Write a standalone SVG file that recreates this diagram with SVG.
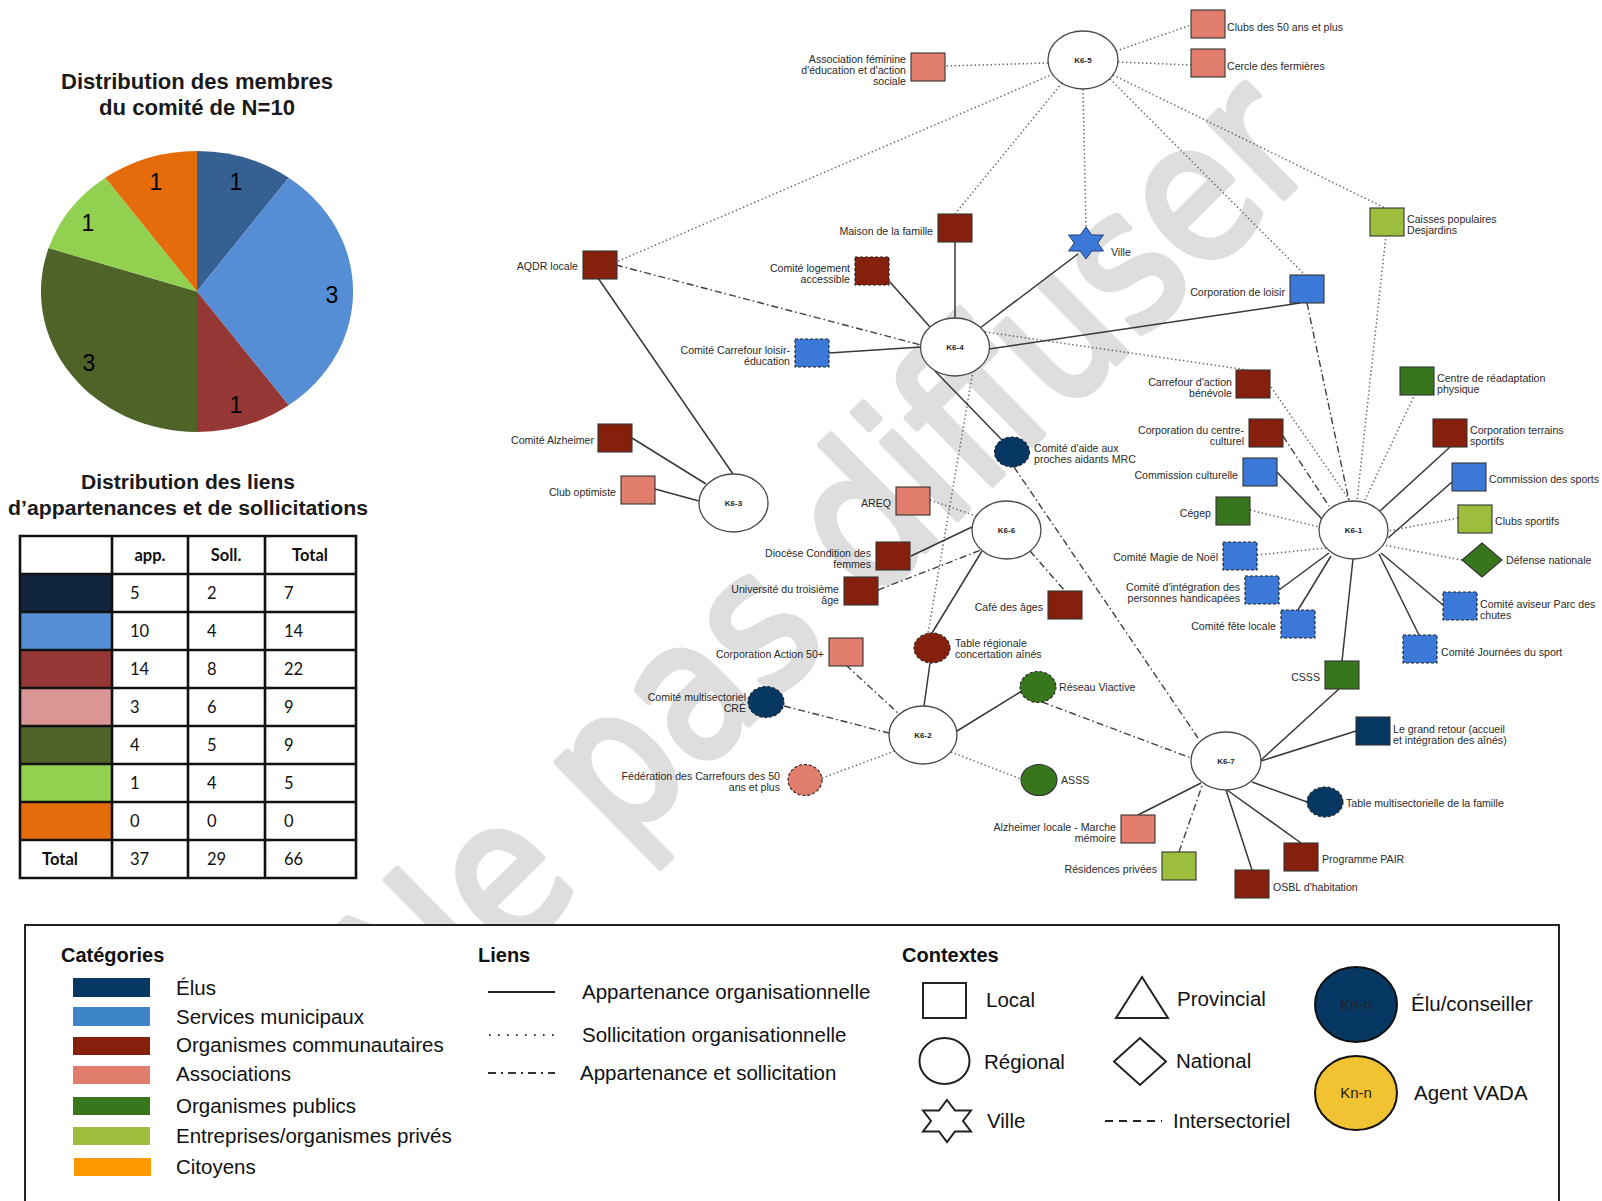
<svg xmlns="http://www.w3.org/2000/svg" width="1602" height="1201" viewBox="0 0 1602 1201">
<style>
  .lb{font-family:"Liberation Sans",Arial,sans-serif;font-size:10.6px;fill:#2a2a2a}
  .r{text-anchor:end}
  .hub{fill:#fff;stroke:#4a4a4a;stroke-width:1.3}
  .ht{font-family:"Liberation Sans",Arial,sans-serif;font-size:8px;font-weight:bold;fill:#222;text-anchor:middle}
  .sq{stroke:#333;stroke-width:1.1}
  .dsh{stroke:#222;stroke-dasharray:3 2}
  .dr{fill:#85200c}.sa{fill:#e07d6c}.bl{fill:#3c78d8}.gr{fill:#38761d}.lg{fill:#9dbe3c}.nv{fill:#073763}
  .es{stroke:#383838;stroke-width:1.5;fill:none}
  .ed{stroke:#666;stroke-width:1.5;stroke-dasharray:1.4 2.6;fill:none}
  .ea{stroke:#404040;stroke-width:1.4;stroke-dasharray:7 3 1.6 3;fill:none}
  .tt{font-family:"Liberation Sans",Arial,sans-serif;font-weight:bold;fill:#1a1a1a;text-anchor:middle}
  .pn{font-family:"Liberation Sans",Arial,sans-serif;font-size:23px;fill:#000;text-anchor:middle}
  .tb{font-family:Lato,"Open Sans",sans-serif;font-size:16.5px;fill:#111}
  .tbb{font-family:Lato,"Open Sans",sans-serif;font-size:16.5px;font-weight:bold;fill:#111;text-anchor:middle}
  .grid{stroke:#111;stroke-width:2.6;fill:none}
  .lt{font-family:"Liberation Sans",Arial,sans-serif;font-size:20.5px;fill:#111}
  .lh{font-family:"Liberation Sans",Arial,sans-serif;font-size:20px;font-weight:bold;fill:#111}
</style>

<rect width="1602" height="1201" fill="#fff"/>

<!-- watermark -->
<text transform="translate(1322,160) rotate(-44.5)" font-family="DejaVu Sans,sans-serif" font-size="195" fill="#dedede" stroke="#dedede" stroke-width="7" stroke-linejoin="round" text-anchor="end" textLength="1265" lengthAdjust="spacingAndGlyphs">Ne pas diffuser</text>

<!-- pie chart -->
<g id="pie">
  <text class="tt" font-size="22" x="197" y="89" textLength="272" lengthAdjust="spacingAndGlyphs">Distribution des membres</text>
  <text class="tt" font-size="22" x="197" y="115" textLength="196" lengthAdjust="spacingAndGlyphs">du comité de N=10</text>
  <path d="M197,291.5 L197,151 A156,140.5 0 0 1 288.7,177.8 Z" fill="#376092"/>
  <path d="M197,291.5 L288.7,177.8 A156,140.5 0 0 1 288.7,405.2 Z" fill="#558ed5"/>
  <path d="M197,291.5 L288.7,405.2 A156,140.5 0 0 1 197,432 Z" fill="#953735"/>
  <path d="M197,291.5 L197,432 A156,140.5 0 0 1 48.6,248.1 Z" fill="#4f6228"/>
  <path d="M197,291.5 L48.6,248.1 A156,140.5 0 0 1 105.3,177.8 Z" fill="#92d050"/>
  <path d="M197,291.5 L105.3,177.8 A156,140.5 0 0 1 197,151 Z" fill="#e46c0a"/>
  <text class="pn" x="236" y="190">1</text>
  <text class="pn" x="332" y="303">3</text>
  <text class="pn" x="236" y="413">1</text>
  <text class="pn" x="89" y="371">3</text>
  <text class="pn" x="88" y="231">1</text>
  <text class="pn" x="156" y="190">1</text>
</g>

<!-- link table -->
<g id="table">
  <text class="tt" font-family="Lato,sans-serif" font-size="20" x="188" y="489" textLength="214" lengthAdjust="spacingAndGlyphs">Distribution des liens</text>
  <text class="tt" font-family="Lato,sans-serif" font-size="20" x="188" y="515" textLength="360" lengthAdjust="spacingAndGlyphs">d’appartenances et de sollicitations</text>
  <rect x="20" y="574" width="92" height="38" fill="#10243e"/>
  <rect x="20" y="612" width="92" height="38" fill="#558ed5"/>
  <rect x="20" y="650" width="92" height="38" fill="#953735"/>
  <rect x="20" y="688" width="92" height="38" fill="#d99694"/>
  <rect x="20" y="726" width="92" height="38" fill="#4f6228"/>
  <rect x="20" y="764" width="92" height="38" fill="#92d050"/>
  <rect x="20" y="802" width="92" height="38" fill="#e46c0a"/>
  <path class="grid" d="M20,536H356V878H20Z M112,536V878 M188,536V878 M265,536V878 M20,574H356 M20,612H356 M20,650H356 M20,688H356 M20,726H356 M20,764H356 M20,802H356 M20,840H356"/>
  <text class="tbb" x="150" y="561">app.</text>
  <text class="tbb" x="226" y="561">Soll.</text>
  <text class="tbb" x="310" y="561">Total</text>
  <g class="tb">
    <text x="130" y="599">5</text><text x="207" y="599">2</text><text x="284" y="599">7</text>
    <text x="130" y="637">10</text><text x="207" y="637">4</text><text x="284" y="637">14</text>
    <text x="130" y="675">14</text><text x="207" y="675">8</text><text x="284" y="675">22</text>
    <text x="130" y="713">3</text><text x="207" y="713">6</text><text x="284" y="713">9</text>
    <text x="130" y="751">4</text><text x="207" y="751">5</text><text x="284" y="751">9</text>
    <text x="130" y="789">1</text><text x="207" y="789">4</text><text x="284" y="789">5</text>
    <text x="130" y="827">0</text><text x="207" y="827">0</text><text x="284" y="827">0</text>
    <text x="130" y="865">37</text><text x="207" y="865">29</text><text x="284" y="865">66</text>
  </g>
  <text class="tbb" x="60" y="865">Total</text>
</g>

<!-- connectors -->
<g id="connectors">
  <!-- sollicitation -->
  <line class="ed" x1="1048" y1="63" x2="946" y2="66"/>
  <line class="ed" x1="1116" y1="51" x2="1191" y2="25"/>
  <line class="ed" x1="1118" y1="62" x2="1191" y2="65"/>
  <line class="ed" x1="1053" y1="74" x2="616" y2="262"/>
  <line class="ed" x1="1062" y1="83" x2="955" y2="214"/>
  <line class="ed" x1="1083" y1="89" x2="1086" y2="227"/>
  <line class="ed" x1="1110" y1="79" x2="1305" y2="275"/>
  <line class="ed" x1="1113" y1="75" x2="1385" y2="208"/>
  <line class="ed" x1="985" y1="332" x2="1248" y2="370"/>
  <line class="ed" x1="1271" y1="387" x2="1350" y2="501"/>
  <line class="ed" x1="973" y1="371" x2="928" y2="633"/>
  <line class="ed" x1="1386" y1="235" x2="1357" y2="501"/>
  <line class="ed" x1="1415" y1="394" x2="1364" y2="502"/>
  <line class="ed" x1="1250" y1="510" x2="1319" y2="527"/>
  <line class="ed" x1="1257" y1="555" x2="1326" y2="548"/>
  <line class="ed" x1="1458" y1="518" x2="1388" y2="531"/>
  <line class="ed" x1="1462" y1="560" x2="1383" y2="545"/>
  <line class="ed" x1="930" y1="500" x2="976" y2="516"/>
  <line class="ed" x1="822" y1="778" x2="895" y2="751"/>
  <line class="ed" x1="951" y1="752" x2="1021" y2="779"/>
  <!-- appartenance et sollicitation -->
  <line class="ea" x1="616" y1="265" x2="921" y2="345"/>
  <line class="ea" x1="878" y1="590" x2="981" y2="550"/>
  <line class="ea" x1="1030" y1="551" x2="1065" y2="591"/>
  <line class="ea" x1="1014" y1="467" x2="1198" y2="738"/>
  <line class="ea" x1="846" y1="665" x2="898" y2="713"/>
  <line class="ea" x1="784" y1="706" x2="889" y2="733"/>
  <line class="ea" x1="1042" y1="702" x2="1191" y2="758"/>
  <line class="ea" x1="1179" y1="852" x2="1203" y2="783"/>
  <line class="ea" x1="1307" y1="303" x2="1349" y2="501"/>
  <line class="ea" x1="1283" y1="436" x2="1329" y2="506"/>
  <!-- appartenance -->
  <line class="es" x1="955" y1="241" x2="955" y2="318"/>
  <line class="es" x1="889" y1="281" x2="930" y2="327"/>
  <line class="es" x1="1078" y1="254" x2="980" y2="328"/>
  <line class="es" x1="1300" y1="303" x2="989" y2="349"/>
  <line class="es" x1="829" y1="353" x2="921" y2="347"/>
  <line class="es" x1="935" y1="371" x2="1002" y2="440"/>
  <line class="es" x1="598" y1="278" x2="733" y2="474"/>
  <line class="es" x1="632" y1="438" x2="706" y2="484"/>
  <line class="es" x1="655" y1="489" x2="699" y2="501"/>
  <line class="es" x1="911" y1="556" x2="972" y2="527"/>
  <line class="es" x1="932" y1="633" x2="982" y2="551"/>
  <line class="es" x1="930" y1="663" x2="924" y2="706"/>
  <line class="es" x1="957" y1="731" x2="1022" y2="691"/>
  <line class="es" x1="1277" y1="472" x2="1322" y2="519"/>
  <line class="es" x1="1279" y1="590" x2="1329" y2="553"/>
  <line class="es" x1="1298" y1="610" x2="1331" y2="556"/>
  <line class="es" x1="1342" y1="661" x2="1353" y2="559"/>
  <line class="es" x1="1419" y1="635" x2="1379" y2="554"/>
  <line class="es" x1="1443" y1="605" x2="1381" y2="553"/>
  <line class="es" x1="1452" y1="482" x2="1388" y2="538"/>
  <line class="es" x1="1450" y1="447" x2="1380" y2="511"/>
  <line class="es" x1="1340" y1="688" x2="1261" y2="760"/>
  <line class="es" x1="1356" y1="731" x2="1261" y2="761"/>
  <line class="es" x1="1307" y1="802" x2="1252" y2="782"/>
  <line class="es" x1="1301" y1="843" x2="1227" y2="790"/>
  <line class="es" x1="1252" y1="870" x2="1226" y2="790"/>
  <line class="es" x1="1138" y1="815" x2="1201" y2="783"/>
</g>

<!-- hubs -->
<g id="k6-5"><ellipse class="hub" cx="1083" cy="60" rx="35" ry="29"/><text class="ht" x="1083" y="63">K6-5</text></g>
<g id="k6-4"><ellipse class="hub" cx="955" cy="347" rx="34.5" ry="29"/><text class="ht" x="955" y="350">K6-4</text></g>
<g id="k6-3"><ellipse class="hub" cx="733.5" cy="503" rx="34.5" ry="29"/><text class="ht" x="733.5" y="506">K6-3</text></g>
<g id="k6-6"><ellipse class="hub" cx="1006.5" cy="530" rx="34.5" ry="29"/><text class="ht" x="1006.5" y="533">K6-6</text></g>
<g id="k6-2"><ellipse class="hub" cx="923" cy="735" rx="34" ry="29"/><text class="ht" x="923" y="738">K6-2</text></g>
<g id="k6-7"><ellipse class="hub" cx="1226" cy="761" rx="35" ry="29"/><text class="ht" x="1226" y="764">K6-7</text></g>
<g id="k6-1"><ellipse class="hub" cx="1353.5" cy="530" rx="34.5" ry="29"/><text class="ht" x="1353.5" y="533">K6-1</text></g>

<!-- organisations -->
<g id="n-assoc-feminine"><rect class="sq sa" x="911" y="53" width="34" height="28"/><text class="lb r" x="906" y="62.8">Association féminine<tspan x="906" dy="11">d'éducation et d'action</tspan><tspan x="906" dy="11">sociale</tspan></text></g>
<g id="n-clubs50"><rect class="sq sa" x="1191" y="10" width="34" height="28"/><text class="lb" x="1227" y="30.8">Clubs des 50 ans et plus</text></g>
<g id="n-cercle"><rect class="sq sa" x="1191" y="49" width="34" height="28"/><text class="lb" x="1227" y="69.8">Cercle des fermières</text></g>
<g id="n-maison"><rect class="sq dr" x="938" y="214" width="34" height="28"/><text class="lb r" x="933" y="234.8">Maison de la famille</text></g>
<g id="n-logement"><rect class="sq dr dsh" x="855" y="257" width="34" height="28"/><text class="lb r" x="850" y="271.8">Comité logement<tspan x="850" dy="11">accessible</tspan></text></g>
<g id="n-aqdr"><rect class="sq dr" x="583" y="251" width="34" height="28"/><text class="lb r" x="578" y="269.8">AQDR locale</text></g>
<g id="n-carrefour-loisir"><rect class="sq bl dsh" x="795" y="339" width="34" height="28"/><text class="lb r" x="790" y="353.8">Comité Carrefour loisir-<tspan x="790" dy="11">éducation</tspan></text></g>
<g id="n-ville"><polygon points="1086,227 1091.8,235 1103.5,235 1097.7,243 1103.5,251 1091.8,251 1086,259 1080.2,251 1068.5,251 1074.3,243 1068.5,235 1080.2,235" fill="#3c78d8" stroke="#1f3f78" stroke-width="1"/><text class="lb" x="1111" y="255.8">Ville</text></g>
<g id="n-caisses"><rect class="sq lg" x="1370" y="208" width="34" height="28"/><text class="lb" x="1407" y="222.8">Caisses populaires<tspan x="1407" dy="11">Desjardins</tspan></text></g>
<g id="n-corp-loisir"><rect class="sq bl" x="1290" y="275" width="34" height="28"/><text class="lb r" x="1285" y="295.8">Corporation de loisir</text></g>
<g id="n-carrefour-benevole"><rect class="sq dr" x="1236" y="370" width="34" height="28"/><text class="lb r" x="1232" y="385.8">Carrefour d'action<tspan x="1232" dy="11">bénévole</tspan></text></g>
<g id="n-readaptation"><rect class="sq gr" x="1400" y="367" width="34" height="28"/><text class="lb" x="1437" y="381.8">Centre de réadaptation<tspan x="1437" dy="11">physique</tspan></text></g>
<g id="n-centre-culturel"><rect class="sq dr" x="1249" y="419" width="34" height="28"/><text class="lb r" x="1244" y="433.8">Corporation du centre-<tspan x="1244" dy="11">culturel</tspan></text></g>
<g id="n-comm-culturelle"><rect class="sq bl" x="1243" y="458" width="34" height="28"/><text class="lb r" x="1238" y="478.8">Commission culturelle</text></g>
<g id="n-cegep"><rect class="sq gr" x="1216" y="497" width="34" height="28"/><text class="lb r" x="1211" y="516.8">Cégep</text></g>
<g id="n-magie-noel"><rect class="sq bl dsh" x="1223" y="542" width="34" height="28"/><text class="lb r" x="1218" y="560.8">Comité Magie de Noël</text></g>
<g id="n-integration"><rect class="sq bl dsh" x="1245" y="576" width="34" height="28"/><text class="lb r" x="1240" y="590.8">Comité d'intégration des<tspan x="1240" dy="11">personnes handicapées</tspan></text></g>
<g id="n-fete-locale"><rect class="sq bl dsh" x="1281" y="610" width="34" height="28"/><text class="lb r" x="1276" y="629.8">Comité fête locale</text></g>
<g id="n-csss"><rect class="sq gr" x="1325" y="661" width="34" height="28"/><text class="lb r" x="1320" y="680.8">CSSS</text></g>
<g id="n-terrains"><rect class="sq dr" x="1433" y="419" width="34" height="28"/><text class="lb" x="1470" y="433.8">Corporation terrains<tspan x="1470" dy="11">sportifs</tspan></text></g>
<g id="n-comm-sports"><rect class="sq bl" x="1452" y="463" width="34" height="28"/><text class="lb" x="1489" y="482.8">Commission des sports</text></g>
<g id="n-clubs-sportifs"><rect class="sq lg" x="1458" y="505" width="34" height="28"/><text class="lb" x="1495" y="524.8">Clubs sportifs</text></g>
<g id="n-defense"><polygon points="1482,543 1502,560 1482,577 1462,560" class="sq gr"/><text class="lb" x="1506" y="563.8">Défense nationale</text></g>
<g id="n-aviseur"><rect class="sq bl dsh" x="1443" y="592" width="34" height="28"/><text class="lb" x="1480" y="607.8">Comité aviseur Parc des<tspan x="1480" dy="11">chutes</tspan></text></g>
<g id="n-journees"><rect class="sq bl dsh" x="1403" y="635" width="34" height="28"/><text class="lb" x="1441" y="655.8">Comité Journées du sport</text></g>
<g id="n-alzheimer"><rect class="sq dr" x="598" y="424" width="34" height="28"/><text class="lb r" x="594" y="443.8">Comité Alzheimer</text></g>
<g id="n-optimiste"><rect class="sq sa" x="621" y="476" width="34" height="28"/><text class="lb r" x="616" y="495.8">Club optimiste</text></g>
<g id="n-proches-aidants"><ellipse class="sq nv dsh" cx="1012" cy="452" rx="17.5" ry="15"/><text class="lb" x="1034" y="451.8">Comité d'aide aux<tspan x="1034" dy="11">proches aidants MRC</tspan></text></g>
<g id="n-areq"><rect class="sq sa" x="896" y="487" width="34" height="28"/><text class="lb r" x="891" y="506.8">AREQ</text></g>
<g id="n-diocese"><rect class="sq dr" x="876" y="542" width="34" height="28"/><text class="lb r" x="871" y="556.8">Diocèse Condition des<tspan x="871" dy="11">femmes</tspan></text></g>
<g id="n-universite"><rect class="sq dr" x="844" y="577" width="34" height="28"/><text class="lb r" x="839" y="592.8">Université du troisième<tspan x="839" dy="11">âge</tspan></text></g>
<g id="n-cafe"><rect class="sq dr" x="1048" y="591" width="34" height="28"/><text class="lb r" x="1043" y="610.8">Café des âges</text></g>
<g id="n-table-regionale"><ellipse class="sq dr dsh" cx="932" cy="648" rx="18" ry="15"/><text class="lb" x="955" y="646.8">Table régionale<tspan x="955" dy="11">concertation aînés</tspan></text></g>
<g id="n-action50"><rect class="sq sa" x="829" y="638" width="34" height="28"/><text class="lb r" x="824" y="657.8">Corporation Action 50+</text></g>
<g id="n-cre"><ellipse class="sq nv dsh" cx="766" cy="702" rx="18" ry="15.5"/><text class="lb r" x="746" y="700.8">Comité multisectoriel<tspan x="746" dy="11">CRÉ</tspan></text></g>
<g id="n-viactive"><ellipse class="sq gr dsh" cx="1038" cy="687" rx="18" ry="15.5"/><text class="lb" x="1059" y="690.8">Réseau Viactive</text></g>
<g id="n-federation"><ellipse class="sq sa dsh" cx="805" cy="780" rx="17" ry="15.5"/><text class="lb r" x="780" y="779.8">Fédération des Carrefours des 50<tspan x="780" dy="11">ans et plus</tspan></text></g>
<g id="n-asss"><ellipse class="sq gr" cx="1039" cy="780" rx="18" ry="15.5"/><text class="lb" x="1061" y="783.8">ASSS</text></g>
<g id="n-alz-locale"><rect class="sq sa" x="1121" y="815" width="34" height="28"/><text class="lb r" x="1116" y="830.8">Alzheimer locale - Marche<tspan x="1116" dy="11">mémoire</tspan></text></g>
<g id="n-residences"><rect class="sq lg" x="1162" y="852" width="34" height="28"/><text class="lb r" x="1157" y="872.8">Résidences privées</text></g>
<g id="n-grand-retour"><rect class="sq nv" x="1356" y="717" width="34" height="28"/><text class="lb" x="1393" y="732.8">Le grand retour (accueil<tspan x="1393" dy="11">et intégration des aînés)</tspan></text></g>
<g id="n-table-multi"><ellipse class="sq nv dsh" cx="1325" cy="802" rx="18" ry="15"/><text class="lb" x="1346" y="806.8">Table multisectorielle de la famille</text></g>
<g id="n-pair"><rect class="sq dr" x="1284" y="843" width="34" height="28"/><text class="lb" x="1322" y="862.8">Programme PAIR</text></g>
<g id="n-osbl"><rect class="sq dr" x="1235" y="870" width="34" height="28"/><text class="lb" x="1273" y="890.8">OSBL d'habitation</text></g>

<!-- legend -->
<g id="legend">
  <rect x="25" y="925" width="1534" height="300" fill="#fff" stroke="#222" stroke-width="2"/>
  <text class="lh" x="61" y="962">Catégories</text>
  <rect x="73" y="978" width="77" height="19" fill="#073763"/>
  <rect x="73" y="1007" width="77" height="19" fill="#3d85c6"/>
  <rect x="73" y="1037" width="77" height="18" fill="#85200c"/>
  <rect x="73" y="1066" width="77" height="18" fill="#e07d6c"/>
  <rect x="73" y="1097" width="77" height="18" fill="#38761d"/>
  <rect x="73" y="1127" width="77" height="18" fill="#9dbe3c"/>
  <rect x="74" y="1158" width="77" height="18" fill="#ff9900"/>
  <text class="lt" x="176" y="995">Élus</text>
  <text class="lt" x="176" y="1024">Services municipaux</text>
  <text class="lt" x="176" y="1052">Organismes communautaires</text>
  <text class="lt" x="176" y="1081">Associations</text>
  <text class="lt" x="176" y="1113">Organismes publics</text>
  <text class="lt" x="176" y="1143">Entreprises/organismes privés</text>
  <text class="lt" x="176" y="1174">Citoyens</text>

  <text class="lh" x="478" y="962">Liens</text>
  <line x1="488" y1="992" x2="555" y2="992" stroke="#222" stroke-width="2"/>
  <line x1="489" y1="1035" x2="555" y2="1035" stroke="#333" stroke-width="2" stroke-dasharray="1.6 7.4"/>
  <line x1="488" y1="1073" x2="555" y2="1073" stroke="#333" stroke-width="2" stroke-dasharray="8 5 2 5"/>
  <text class="lt" x="582" y="999">Appartenance organisationnelle</text>
  <text class="lt" x="582" y="1042">Sollicitation organisationnelle</text>
  <text class="lt" x="580" y="1080">Appartenance et sollicitation</text>

  <text class="lh" x="902" y="962">Contextes</text>
  <rect x="923" y="983" width="43" height="35" fill="#fff" stroke="#222" stroke-width="2"/>
  <ellipse cx="944.5" cy="1061" rx="25" ry="23" fill="#fff" stroke="#222" stroke-width="2"/>
  <polygon points="947,1100 955,1110.5 971,1110.5 963,1121 971,1131.5 955,1131.5 947,1142 939,1131.5 923,1131.5 931,1121 923,1110.5 939,1110.5" fill="#fff" stroke="#222" stroke-width="2"/>
  <text class="lt" x="986" y="1007">Local</text>
  <text class="lt" x="984" y="1069">Régional</text>
  <text class="lt" x="987" y="1128">Ville</text>
  <polygon points="1116,1018 1142,977 1168,1018" fill="#fff" stroke="#222" stroke-width="2"/>
  <polygon points="1140,1038 1166,1061.5 1140,1085 1114,1061.5" fill="#fff" stroke="#222" stroke-width="2"/>
  <line x1="1105" y1="1121" x2="1162" y2="1121" stroke="#222" stroke-width="2" stroke-dasharray="8 6"/>
  <text class="lt" x="1177" y="1006">Provincial</text>
  <text class="lt" x="1176" y="1068">National</text>
  <text class="lt" x="1173" y="1128">Intersectoriel</text>
  <ellipse cx="1356" cy="1004.5" rx="41" ry="37.5" fill="#073763" stroke="#111" stroke-width="2"/>
  <ellipse cx="1356" cy="1093" rx="41" ry="37" fill="#f1c232" stroke="#111" stroke-width="2"/>
  <text x="1356" y="1010" font-family="Liberation Sans,Arial,sans-serif" font-size="15" fill="#222" text-anchor="middle">Kn-n</text>
  <text x="1356" y="1098" font-family="Liberation Sans,Arial,sans-serif" font-size="15" fill="#222" text-anchor="middle">Kn-n</text>
  <text class="lt" x="1411" y="1011">Élu/conseiller</text>
  <text class="lt" x="1414" y="1100">Agent VADA</text>
</g>
</svg>
